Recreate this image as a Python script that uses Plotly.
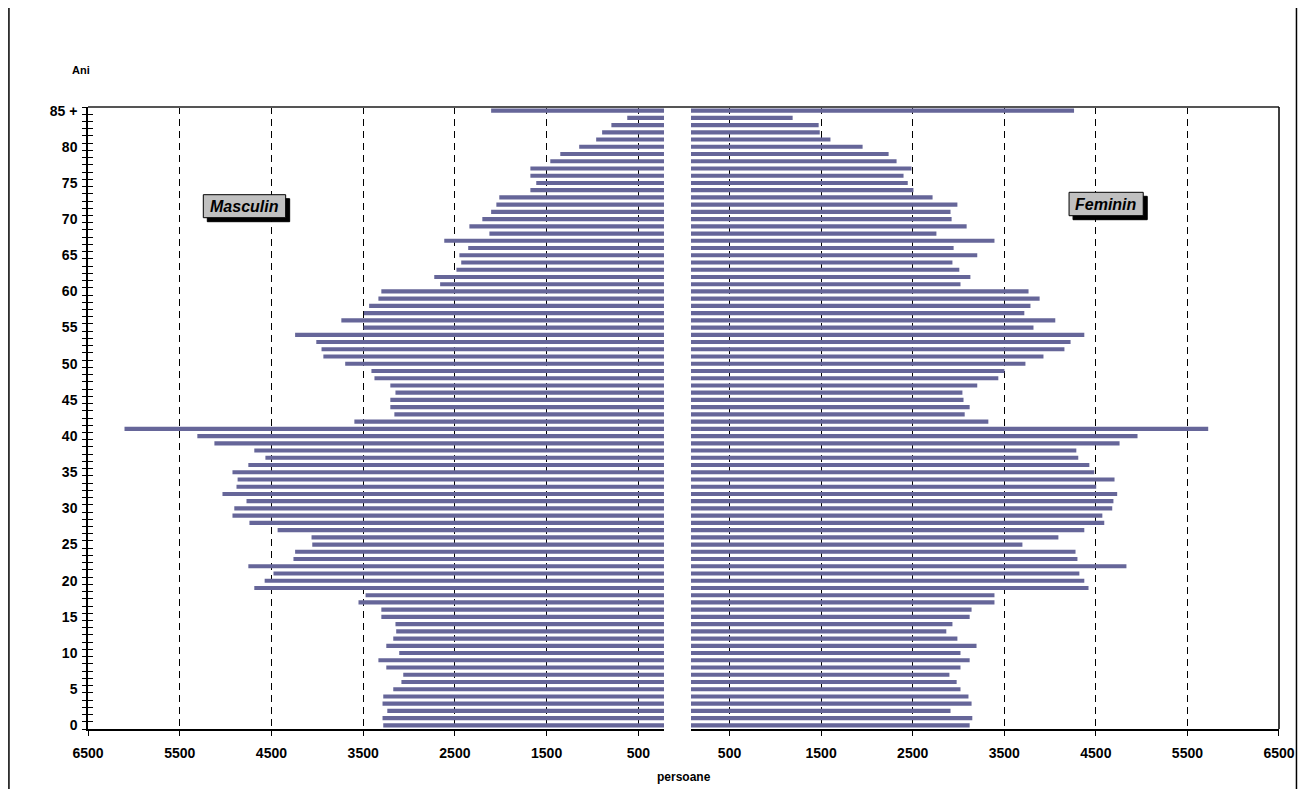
import plotly.graph_objects as go

# ---------------- data ----------------
ages = list(range(86))
age_tick_vals = [0, 5, 10, 15, 20, 25, 30, 35, 40, 45, 50, 55, 60, 65, 70, 75, 80, 85]
age_tick_text = ["0", "5", "10", "15", "20", "25", "30", "35", "40", "45", "50", "55",
                 "60", "65", "70", "75", "80", "85 +"]

masculin = [3281, 3289, 3237, 3289, 3281, 3172, 3083, 3063, 3248, 3334,
            3107, 3248, 3172, 3140, 3148, 3302, 3302, 3551, 3474, 4687,
            4574, 4478, 4752, 4260, 4242, 4055, 4063, 4433, 4740, 4925,
            4905, 4772, 5034, 4881, 4869, 4925, 4752, 4566, 4687, 5122,
            5308, 6102, 3596, 3160, 3204, 3204, 3148, 3204, 3377, 3410,
            3696, 3934, 3954, 4011, 4242, 3496, 3738, 3492, 3435, 3334,
            3302, 2661, 2725, 2483, 2431, 2451, 2355, 2616, 2124, 2342,
            2201, 2105, 2048, 2016, 1677, 1613, 1677, 1677, 1460, 1351,
            1145, 960, 895, 794, 621, 2105]

feminin = [3122, 3151, 2913, 3143, 3109, 3022, 2980, 2901, 3022, 3122,
           3022, 3197, 2988, 2867, 2934, 3122, 3143, 3393, 3393, 4420,
           4374, 4320, 4834, 4299, 4278, 3698, 4091, 4374, 4592, 4571,
           4679, 4692, 4733, 4504, 4704, 4483, 4429, 4308, 4287, 4759,
           4955, 5727, 3326, 3068, 3122, 3055, 3043, 3205, 3435, 3502,
           3731, 3928, 4157, 4224, 4374, 3819, 4057, 3719, 3786, 3886,
           3765, 3022, 3130, 3009, 2934, 3205, 2947, 3393, 2759, 3089,
           2925, 2913, 2988, 2717, 2508, 2446, 2400, 2487, 2324, 2237,
           1953, 1602, 1485, 1473, 1189, 4262]

x_tick_vals = [500, 1500, 2500, 3500, 4500, 5500, 6500]
x_tick_text = ["500", "1500", "2500", "3500", "4500", "5500", "6500"]

# ---------------- layout geometry (reference pixel coordinates) ----------------
OFF = 8                      # page body margin of the html
W, H = 1307 - OFF, 797 - 2 * OFF
L, R, T, B = 88, 1281, 107, 729
PW, PH = R - L, B - T


def px(x):
    return (x - L) / PW


def py(y):
    return (B - y) / PH


FONT = "Liberation Sans, Arial, sans-serif"
BAR = "#666699"
boundaries = [k - 0.5 for k in range(87)]

fig = go.Figure()
fig.add_trace(go.Bar(y=ages, x=masculin, orientation="h", xaxis="x", yaxis="y",
                     marker=dict(color=BAR, line=dict(width=0)), width=0.57,
                     showlegend=False, hoverinfo="x+y"))
fig.add_trace(go.Bar(y=ages, x=feminin, orientation="h", xaxis="x2", yaxis="y2",
                     marker=dict(color=BAR, line=dict(width=0)), width=0.57,
                     showlegend=False, hoverinfo="x+y"))
# invisible helper so the inside-tick overlay axis is drawn
fig.add_trace(go.Scatter(x=[3000], y=[0], xaxis="x", yaxis="y3", mode="markers",
                         marker=dict(opacity=0), showlegend=False, hoverinfo="skip"))

xcommon = dict(tickvals=x_tick_vals, ticktext=x_tick_text, ticks="outside", ticklen=5,
               tickcolor="black", tickwidth=1, showline=True, linecolor="black",
               linewidth=1.5, showgrid=True, gridcolor="black", gridwidth=1,
               griddash="7px,5px", zeroline=False,
               tickfont=dict(family=FONT, size=14, color="black", weight="bold"),
               ticklabelstandoff=5)

fig.update_layout(
    width=W, height=H,
    margin=dict(l=L - OFF, r=W - (R - OFF), t=T - OFF, b=H - (B - OFF), pad=0),
    paper_bgcolor="white", plot_bgcolor="white",
    xaxis=dict(domain=[0, px(665)], range=[6500, 220], anchor="y", **xcommon),
    xaxis2=dict(domain=[px(692), 1], range=[79, 6500], anchor="y2", **xcommon),
    yaxis=dict(domain=[0, 1], range=[-0.5, 85.5], anchor="x",
               tickvals=age_tick_vals, ticktext=age_tick_text, ticks="",
               showline=True, linecolor="black", linewidth=1.5,
               showgrid=False, zeroline=False,
               minor=dict(tickvals=boundaries, ticks="outside", ticklen=4,
                          tickcolor="black", tickwidth=1, showgrid=False),
               tickfont=dict(family=FONT, size=14, color="black", weight="bold"),
               ticklabelstandoff=6),
    yaxis2=dict(domain=[0, 1], range=[-0.5, 85.5], anchor="x2", matches="y",
                showticklabels=False, ticks="", showline=False, showgrid=False,
                zeroline=False),
    yaxis3=dict(overlaying="y", anchor="x", side="left", range=[-0.5, 85.5],
                tickvals=boundaries, ticks="inside", ticklen=5, tickcolor="black",
                tickwidth=1, showticklabels=False, showline=False, showgrid=False,
                zeroline=False),
)

# frame lines of the plot area
fig.add_shape(type="line", xref="paper", yref="paper", x0=0, x1=1, y0=1, y1=1,
              line=dict(color="#555555", width=2))
fig.add_shape(type="line", xref="paper", yref="paper", x0=1, x1=1, y0=0, y1=1,
              line=dict(color="black", width=1.5))
# chart area border (left and right edges)
for bx in (8.8, 1298.5):
    fig.add_shape(type="line", xref="paper", yref="paper",
                  x0=px(bx), x1=px(bx), y0=py(800), y1=py(OFF),
                  line=dict(color="black", width=1.5))

# axis titles
fig.add_annotation(text="Ani", xref="paper", yref="paper", x=px(81), y=py(70),
                   showarrow=False, xanchor="center", yanchor="middle",
                   font=dict(family=FONT, size=11, color="black", weight="bold"))
fig.add_annotation(text="persoane", xref="paper", yref="paper", x=px(685), y=py(777),
                   showarrow=False, xanchor="center", yanchor="middle",
                   font=dict(family=FONT, size=12, color="black", weight="bold"))

# labelled boxes with drop shadow (shadow is a plain rectangle)
boxes = [("Masculin", 203.5, 286.0, 194.7, 217.7), ("Feminin", 1070.7, 1145.0, 192.3, 215.7)]
for txt, x0, x1, y0, y1 in boxes:
    fig.add_shape(type="rect", xref="paper", yref="paper",
                  x0=px(x0 + 4), x1=px(x1 + 4), y0=py(y1 + 4), y1=py(y0 + 4),
                  line=dict(color="black", width=1), fillcolor="black")
    fig.add_shape(type="rect", xref="paper", yref="paper",
                  x0=px(x0), x1=px(x1), y0=py(y1), y1=py(y0),
                  line=dict(color="black", width=1), fillcolor="#C0C0C0")
    fig.add_annotation(text=txt, xref="paper", yref="paper",
                       x=px((x0 + x1) / 2), y=py((y0 + y1) / 2),
                       showarrow=False, xanchor="center", yanchor="middle",
                       font=dict(family=FONT, size=16, color="black", weight="bold",
                                 style="italic"))

fig.write_html("out.html")
